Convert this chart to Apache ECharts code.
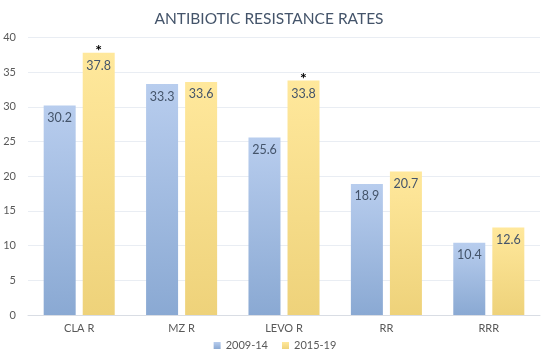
<!DOCTYPE html>
<html><head><meta charset="utf-8">
<script src="https://cdn.jsdelivr.net/npm/echarts@6/dist/echarts.min.js"></script>
<style>html,body{margin:0;padding:0;background:#fff}#c{width:550px;height:360px}</style>
</head><body><div id="c"></div>
<script>
var categories = ['CLA R', 'MZ R', 'LEVO R', 'RR', 'RRR'];
var series1Name = '2009-14';
var series2Name = '2015-19';
var values1 = [30.2, 33.3, 25.6, 18.9, 10.4];
var values2 = [37.8, 33.6, 33.8, 20.7, 12.6];
var significant2 = [true, false, true, false, false];
var yTicks = [0, 5, 10, 15, 20, 25, 30, 35, 40];

var FONT = 'Lato, "Open Sans", sans-serif';
function grad(top, bottom) {
  return new echarts.graphic.LinearGradient(0, 0, 0, 1, [{offset: 0, color: top}, {offset: 1, color: bottom}]);
}
var chart = echarts.init(document.getElementById('c'));
chart.setOption({
  animation: false,
  title: {text: 'ANTIBIOTIC RESISTANCE RATES', left: 264, top: 6, textAlign: 'center',
    textStyle: {fontFamily: FONT, fontSize: 15.5, fontWeight: 'normal', color: '#44546a'}},
  grid: {left: 28, right: 10, top: 37.5, bottom: 45},
  legend: {bottom: 4, left: 'center', itemWidth: 7, itemHeight: 7, itemGap: 14, icon: 'rect',
    textStyle: {fontFamily: FONT, fontSize: 11, color: '#595959'}, data: [series1Name, series2Name]},
  xAxis: {type: 'category', data: categories,
    axisLine: {lineStyle: {color: '#d9dde4'}}, axisTick: {show: false},
    axisLabel: {fontFamily: FONT, fontSize: 11, color: '#595959', margin: 8}},
  yAxis: {type: 'value', min: yTicks[0], max: yTicks[yTicks.length - 1], interval: 5,
    axisLine: {show: false}, axisTick: {show: false},
    splitLine: {lineStyle: {color: '#e9edf3'}},
    axisLabel: {fontFamily: FONT, fontSize: 11, color: '#595959', margin: 12}},
  series: [
    {name: series1Name, type: 'bar', barWidth: 32, barGap: '22%', data: values1,
      itemStyle: {color: grad('#b8cdee', '#8aa9d3')},
      label: {show: true, position: 'insideTop', distance: 6, fontFamily: FONT, fontSize: 12.5, color: '#44546a'}},
    {name: series2Name, type: 'bar', barWidth: 32, data: values2.map(function (v, i) {
        return {value: v, label: significant2[i] ? {formatter: '{s|*}\n{v|{c}}', offset: [0, -16]} : {}};
      }),
      itemStyle: {color: grad('#ffe89c', '#eed27a')},
      label: {show: true, position: 'insideTop', distance: 6, fontFamily: FONT, fontSize: 12.5, color: '#44546a',
        rich: {s: {fontSize: 16, fontWeight: 'bold', color: '#000', lineHeight: 16, fontFamily: FONT},
               v: {fontSize: 12.5, color: '#44546a', lineHeight: 14, fontFamily: FONT}}}}
  ]
});
</script></body></html>
